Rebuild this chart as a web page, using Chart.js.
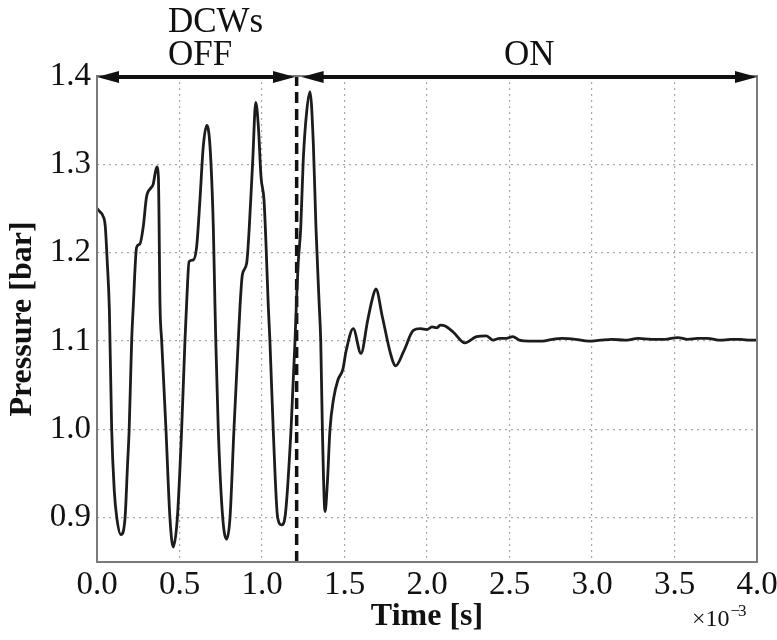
<!DOCTYPE html>
<html>
<head>
<meta charset="utf-8">
<script src="https://cdn.jsdelivr.net/npm/chart.js@4.4.1/dist/chart.umd.min.js"></script>
<style>
  html, body { margin: 0; padding: 0; background: #fff; }
  #wrap { width: 777px; height: 640px; }
</style>
</head>
<body>
<div id="wrap"><canvas id="pressure-chart" width="777" height="640"></canvas></div>
<script>
// time in units of 1e-3 s
const timeMs = [
  0.00, 0.02, 0.035, 0.05, 0.062, 0.075, 0.089, 0.105, 0.12, 0.145,
  0.17, 0.185, 0.195, 0.21, 0.22, 0.24, 0.26, 0.28, 0.30, 0.325,
  0.34, 0.362, 0.372, 0.382, 0.392, 0.418, 0.442, 0.462, 0.487, 0.513,
  0.533, 0.545, 0.558, 0.584, 0.604, 0.624, 0.644, 0.665, 0.685, 0.705,
  0.715, 0.72, 0.735, 0.762, 0.786, 0.806, 0.83, 0.856, 0.867, 0.881,
  0.907, 0.923, 0.944, 0.962, 0.978, 0.994, 1.012, 1.024, 1.038, 1.048,
  1.068, 1.095, 1.119, 1.139, 1.176, 1.20, 1.21, 1.22, 1.235, 1.25,
  1.271, 1.291, 1.311, 1.327, 1.347, 1.356, 1.366, 1.382, 1.396, 1.412,
  1.434, 1.46, 1.49, 1.51, 1.553, 1.60, 1.64, 1.665, 1.69, 1.73,
  1.78, 1.81, 1.86, 1.917, 1.96, 2.00, 2.03, 2.06, 2.08, 2.11,
  2.16, 2.23, 2.30, 2.36, 2.40, 2.44, 2.48, 2.52, 2.56, 2.62,
  2.70, 2.76, 2.82, 2.90, 2.98, 3.05, 3.12, 3.20, 3.28, 3.36,
  3.44, 3.52, 3.58, 3.64, 3.70, 3.78, 3.84, 3.90, 3.96, 4.00
];
const pressureBar = [
  1.250, 1.246, 1.242, 1.230, 1.190, 1.135, 1.000, 0.930, 0.900, 0.881,
  0.900, 0.960, 1.000, 1.100, 1.140, 1.206, 1.210, 1.229, 1.263, 1.273,
  1.277, 1.297, 1.286, 1.140, 1.100, 1.000, 0.900, 0.867, 0.900, 1.000,
  1.100, 1.150, 1.190, 1.192, 1.207, 1.260, 1.320, 1.344, 1.320, 1.229,
  1.140, 1.100, 1.000, 0.900, 0.876, 0.900, 1.000, 1.100, 1.140, 1.175,
  1.188, 1.229, 1.305, 1.370, 1.343, 1.286, 1.260, 1.211, 1.140, 1.100,
  1.000, 0.900, 0.892, 0.900, 1.000, 1.100, 1.150, 1.190, 1.229, 1.305,
  1.360, 1.382, 1.324, 1.229, 1.140, 1.100, 1.000, 0.907, 0.939, 1.000,
  1.035, 1.056, 1.068, 1.089, 1.114, 1.086, 1.123, 1.145, 1.159, 1.127,
  1.085, 1.072, 1.089, 1.112, 1.114, 1.113, 1.116, 1.115, 1.118, 1.117,
  1.110, 1.098, 1.105, 1.106, 1.101, 1.103, 1.103, 1.105, 1.101, 1.100,
  1.100, 1.102, 1.103, 1.102, 1.100, 1.101, 1.102, 1.101, 1.103, 1.102,
  1.102, 1.104, 1.102, 1.103, 1.103, 1.101, 1.102, 1.102, 1.101, 1.101
];

const xTicks = [0.0, 0.5, 1.0, 1.5, 2.0, 2.5, 3.0, 3.5, 4.0];
const yTicks = [0.9, 1.0, 1.1, 1.2, 1.3, 1.4];
const xRange = [0, 4.0];
const yRange = [0.85, 1.4];

// DCW switch time and arrow spans (units of 1e-3 s)
const dcwSwitch = 1.21;
const offSpan = [0, 1.2];
const onSpan = [1.24, 4.0];

const serif = "'Liberation Serif', 'Times New Roman', serif";

// arrows, labels, box and exponent drawn on top
const annotations = {
  id: 'annotations',
  afterDraw(chart) {
    const { ctx, chartArea, scales } = chart;
    const x = scales.x, y = scales.y;
    ctx.save();

    // box around plot
    ctx.strokeStyle = '#7a7a7a';
    ctx.lineWidth = 2;
    ctx.strokeRect(chartArea.left, chartArea.top, chartArea.right - chartArea.left, chartArea.bottom - chartArea.top);

    // double arrows along top
    const ay = y.getPixelForValue(yRange[1]) + 1;
    function arrow(x0, x1) {
      const head = 22, half = 6;
      ctx.strokeStyle = '#111';
      ctx.fillStyle = '#111';
      ctx.lineWidth = 4;
      ctx.beginPath();
      ctx.moveTo(x0 + 8, ay);
      ctx.lineTo(x1 - 8, ay);
      ctx.stroke();
      ctx.beginPath();
      ctx.moveTo(x0, ay);
      ctx.lineTo(x0 + head, ay - half);
      ctx.lineTo(x0 + head, ay + half);
      ctx.closePath();
      ctx.fill();
      ctx.beginPath();
      ctx.moveTo(x1, ay);
      ctx.lineTo(x1 - head, ay - half);
      ctx.lineTo(x1 - head, ay + half);
      ctx.closePath();
      ctx.fill();
    }
    const offL = x.getPixelForValue(offSpan[0]), offR = x.getPixelForValue(offSpan[1]);
    const onL = x.getPixelForValue(onSpan[0]), onR = x.getPixelForValue(onSpan[1]);
    arrow(offL, offR);
    arrow(onL, onR);

    // labels above arrows
    ctx.fillStyle = '#111';
    ctx.font = '35px ' + serif;
    ctx.textBaseline = 'alphabetic';
    ctx.textAlign = 'left';
    const offMid = (offL + offR) / 2;
    const offW = ctx.measureText('OFF').width;
    ctx.fillText('DCWs', offMid + 4 - offW / 2, 32);
    ctx.fillText('OFF', offMid + 4 - offW / 2, 65);
    ctx.textAlign = 'center';
    ctx.fillText('ON', (onL + onR) / 2, 65);

    // exponent
    ctx.textAlign = 'left';
    ctx.font = '24px ' + serif;
    ctx.fillText('\u00d710', 692, 626);
    const baseW = ctx.measureText('\u00d710').width;
    ctx.font = '17px ' + serif;
    ctx.fillText('\u2212', 692 + baseW + 1, 616);
    const minusW = ctx.measureText('\u2212').width;
    ctx.fillText('3', 692 + baseW + minusW - 1, 616);

    ctx.restore();
  }
};

const ctx = document.getElementById('pressure-chart').getContext('2d');

const chart = new Chart(ctx, {
  type: 'line',
  data: {
    datasets: [
      {
        label: 'Pressure',
        data: timeMs.map((t, i) => ({ x: t, y: pressureBar[i] })),
        borderColor: '#1c1c1c',
        borderWidth: 2.8,
        pointRadius: 0,
        cubicInterpolationMode: 'monotone',
        fill: false,
      },
      {
        label: 'DCW switch',
        data: [{ x: dcwSwitch, y: yRange[0] }, { x: dcwSwitch, y: yRange[1] }],
        borderColor: '#111',
        borderWidth: 3.5,
        borderDash: [11, 6],
        pointRadius: 0,
        fill: false,
      },
    ],
  },
  options: {
    responsive: false,
    animation: false,
    layout: { padding: { top: 76, right: 20, left: 0, bottom: 0 } },
    plugins: {
      legend: { display: false },
      tooltip: { enabled: false },
    },
    scales: {
      x: {
        type: 'linear',
        min: xRange[0],
        max: xRange[1],
        afterBuildTicks: (scale) => { scale.ticks = xTicks.map(v => ({ value: v })); },
        afterFit: (scale) => { scale.height = 78; scale.paddingLeft = 0; scale.paddingRight = 0; },
        ticks: {
          padding: 4,
          color: '#111',
          font: { family: serif, size: 33 },
          maxRotation: 0,
          callback: (v) => Number(v).toFixed(1),
        },
        grid: {
          color: '#a8a8a8',
          lineWidth: 1.2,
          drawTicks: false,
        },
        border: { display: false, dash: [2, 4] },
        title: {
          display: true,
          text: 'Time [s]',
          color: '#111',
          font: { family: serif, size: 32, weight: 'bold' },
          padding: { top: 2 },
        },
      },
      y: {
        min: yRange[0],
        max: yRange[1],
        afterBuildTicks: (scale) => { scale.ticks = yTicks.map(v => ({ value: v })); },
        afterFit: (scale) => { scale.width = 97; },
        ticks: {
          padding: 6,
          color: '#111',
          font: { family: serif, size: 33 },
          callback: (v) => Number(v).toFixed(1),
        },
        grid: {
          color: '#a8a8a8',
          lineWidth: 1.2,
          drawTicks: false,
        },
        border: { display: false, dash: [2, 4] },
        title: {
          display: true,
          text: 'Pressure [bar]',
          color: '#111',
          font: { family: serif, size: 32, weight: 'bold' },
          padding: { top: 4 },
        },
      },
    },
  },
  plugins: [annotations],
});
</script>
</body>
</html>
